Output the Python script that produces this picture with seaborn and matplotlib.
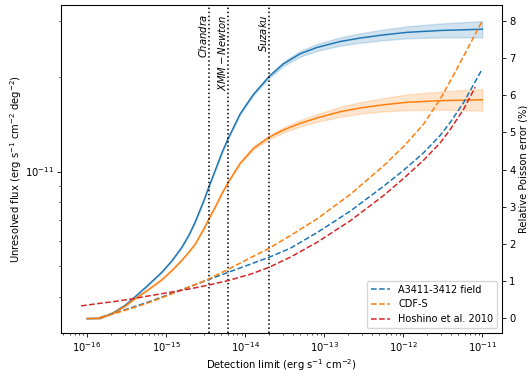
import matplotlib
matplotlib.use("Agg")
import numpy as np
import pandas as pd
import matplotlib.pyplot as plt
import seaborn as sns

# ---------------- data (log10 values) ----------------
# detection limit grid for the unresolved-flux curves, log10(erg s^-1 cm^-2)
log_flux_limit = [-16.000, -15.835, -15.671, -15.519, -15.392, -15.228, -15.054,
                  -14.924, -14.801, -14.709, -14.633, -14.528, -14.456, -14.358,
                  -14.291, -14.211, -14.063, -13.895, -13.696, -13.515, -13.304,
                  -13.092, -12.797, -12.544, -12.249, -11.953, -11.532, -11.000]
# unresolved flux, log10(erg s^-1 cm^-2 deg^-2)
log_flux_a3411 = [-11.467, -11.466, -11.449, -11.425, -11.398, -11.361, -11.320,
                  -11.283, -11.241, -11.201, -11.161, -11.096, -11.047, -10.983,
                  -10.939, -10.893, -10.817, -10.755, -10.698, -10.658, -10.626,
                  -10.606, -10.587, -10.576, -10.566, -10.558, -10.552, -10.548]
band_a3411 = [0, 0, 0, 0, 0, 0, 0, 0, 0, 0, 0, 0, 0, 0, 0,
              0.001, 0.002, 0.003, 0.005, 0.007, 0.009, 0.011, 0.013,
              0.015, 0.017, 0.019, 0.022, 0.026]
log_flux_cdfs = [-11.467, -11.466, -11.450, -11.428, -11.404, -11.376, -11.344,
                 -11.314, -11.282, -11.255, -11.231, -11.185, -11.149, -11.103,
                 -11.069, -11.033, -10.974, -10.926, -10.891, -10.868, -10.847,
                 -10.830, -10.810, -10.798, -10.788, -10.780, -10.775, -10.772]
band_cdfs = [0, 0, 0, 0, 0, 0, 0, 0, 0, 0, 0, 0, 0, 0, 0,
             0.001, 0.002, 0.004, 0.006, 0.008, 0.010, 0.012, 0.016,
             0.018, 0.021, 0.025, 0.029, 0.034]

# relative Poisson error (%)
log_err_limit = [-15.835, -15.646, -15.456, -15.244, -15.076, -14.886, -14.696,
                 -14.485, -14.219, -13.937, -13.696, -13.430, -13.092, -12.671,
                 -12.249, -11.996, -11.743, -11.532, -11.405, -11.237, -11.000]
err_a3411 = [0.02, 0.14, 0.27, 0.42, 0.55, 0.70, 0.85, 1.02, 1.23, 1.45, 1.64,
             1.88, 2.30, 2.88, 3.55, 3.98, 4.45, 4.92, 5.27, 5.80, 6.71]
err_cdfs = [0.02, 0.13, 0.25, 0.40, 0.53, 0.69, 0.85, 1.03, 1.31, 1.62, 1.88,
            2.22, 2.67, 3.33, 4.10, 4.62, 5.22, 5.90, 6.38, 7.05, 8.00]

log_err_limit_hoshino = [-16.076, -15.835, -15.646, -15.456, -15.244, -15.076,
                         -14.886, -14.696, -14.485, -14.219, -13.937, -13.696,
                         -13.430, -13.092, -12.671, -12.249, -11.996, -11.743,
                         -11.532, -11.405, -11.237, -11.089]
err_hoshino = [0.33, 0.40, 0.45, 0.51, 0.59, 0.65, 0.72, 0.79, 0.88, 1.01, 1.18,
               1.37, 1.64, 2.04, 2.62, 3.30, 3.76, 4.25, 4.72, 5.08, 5.62, 6.22]

series_labels = ["A3411-3412 field", "CDF-S", "Hoshino et al. 2010"]
instruments = ["$Chandra$", "$XMM-Newton$", "$Suzaku$"]
instrument_limits = [3.5e-15, 6.1e-15, 2.0e-14]
x_major_ticks = [1e-16, 1e-15, 1e-14, 1e-13, 1e-12, 1e-11]
y_major_ticks = [1e-11]
err_ticks = [0, 1, 2, 3, 4, 5, 6, 7, 8]

# ---------------- style ----------------
FS = 7.2
plt.rcParams.update({
    "font.family": ["DejaVu Sans"],
    "font.size": FS,
    "axes.linewidth": 0.75,
    "axes.labelpad": 2.5,
    "xtick.major.size": 2.6, "ytick.major.size": 2.6,
    "xtick.minor.size": 1.5, "ytick.minor.size": 1.5,
    "xtick.major.width": 0.6, "ytick.major.width": 0.6,
    "xtick.minor.width": 0.5, "ytick.minor.width": 0.5,
    "xtick.major.pad": 2.5, "ytick.major.pad": 2.5,
    "xtick.labelsize": FS, "ytick.labelsize": FS,
    "legend.fontsize": 7,
})

blue, orange, red = "#1f77b4", "#ff7f0e", "#d62728"
LW = 1.1


def band_frame(logx, logy, dex):
    x = 10 ** np.asarray(logx)
    y = 10 ** np.asarray(logy)
    d = np.asarray(dex)
    return pd.DataFrame({
        "x": np.concatenate([x, x, x]),
        "y": np.concatenate([y * 10 ** (-d), y, y * 10 ** d]),
    })


fig, ax = plt.subplots(figsize=(5.27, 3.73), dpi=100)
fig.subplots_adjust(left=0.1157, right=0.9526, top=0.9866, bottom=0.1072)
ax.set_xscale("log")
ax.set_yscale("log")

sns.lineplot(data=band_frame(log_flux_limit, log_flux_a3411, band_a3411), x="x", y="y",
             estimator="median", errorbar=("pi", 100), color=blue, lw=LW, ax=ax)
sns.lineplot(data=band_frame(log_flux_limit, log_flux_cdfs, band_cdfs), x="x", y="y",
             estimator="median", errorbar=("pi", 100), color=orange, lw=LW, ax=ax)

for xv, name in zip(instrument_limits, instruments):
    ax.axvline(xv, color="k", ls=":", lw=1.1)
    ax.text(xv, 0.972, name, transform=ax.get_xaxis_transform(), rotation=90,
            ha="right", va="top", fontsize=FS)

ax.set_xticks(x_major_ticks)
ax.set_yticks(y_major_ticks)
ax.set_xlim(10 ** -16.33, 10 ** -10.75)
ax.set_ylim(3.07e-12, 3.38e-11)
ax.set_xlabel("Detection limit (erg s$^{-1}$ cm$^{-2}$)")
ax.set_ylabel("Unresolved flux (erg s$^{-1}$ cm$^{-2}$ deg$^{-2}$)", labelpad=1)

ax2 = ax.twinx()
err_x = 10 ** np.asarray(log_err_limit)
err_x_h = 10 ** np.asarray(log_err_limit_hoshino)
for xs, ys, col, lab in [(err_x, err_a3411, blue, series_labels[0]),
                         (err_x, err_cdfs, orange, series_labels[1]),
                         (err_x_h, err_hoshino, red, series_labels[2])]:
    sns.lineplot(x=xs, y=ys, color=col, lw=LW, linestyle="--", label=lab, ax=ax2)

ax2.set_xscale("log")
ax2.set_xticks(x_major_ticks)
ax2.set_xlim(10 ** -16.33, 10 ** -10.75)
ax2.set_ylim(-0.4, 8.43)
ax2.set_yticks(err_ticks)
ax2.set_ylabel("Relative Poisson error (%)", labelpad=2)
ax2.legend(loc="lower right")

fig.savefig("out.png", dpi=100)
